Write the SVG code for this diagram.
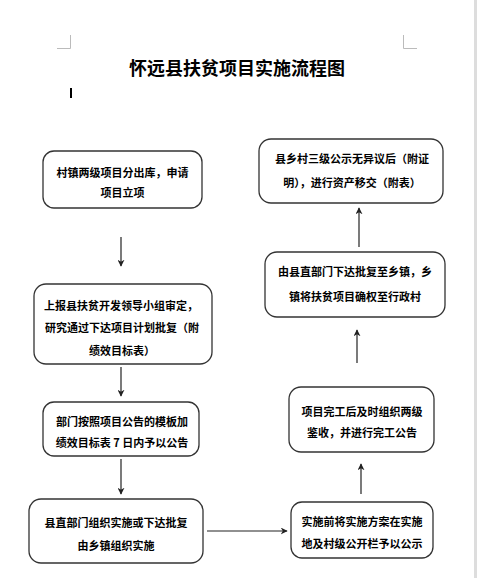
<svg xmlns="http://www.w3.org/2000/svg" width="477" height="578" viewBox="0 0 477 578">
<style>
.box{fill:#fff;stroke:#333;stroke-width:1.3}
.t{font-family:"Noto Sans CJK SC","Liberation Sans",sans-serif;font-size:11px;font-weight:bold;fill:#000;text-anchor:middle}
.title{font-family:"Noto Sans CJK SC","Liberation Serif",serif;font-size:18px;font-weight:bold;fill:#000;text-anchor:middle}
.c{stroke:#222;stroke-width:1.2;fill:none;marker-end:url(#ah)}
.mark{stroke:#bbb;stroke-width:1;fill:none}
</style>
<defs>
<marker id="ah" viewBox="0 0 10 10" refX="9" refY="5" markerWidth="7" markerHeight="7" markerUnits="userSpaceOnUse" orient="auto">
<path d="M0,0 L10,5 L0,10 L3,5 z" fill="#222"/>
</marker>
</defs>
<rect width="477" height="578" fill="#fff"/>
<rect x="474" y="0" width="3" height="578" fill="#ddd"/>
<path class="mark" d="M70.5,35 V48.5 H57"/>
<path class="mark" d="M403.5,35 V48.5 H417"/>
<text class="title" x="237" y="74.5">怀远县扶贫项目实施流程图</text>
<rect x="70" y="88" width="2" height="10" fill="#000"/>

<g id="connectors">
<line class="c" x1="121" y1="237" x2="121" y2="266"/>
<line class="c" x1="121" y1="367" x2="121" y2="396"/>
<line class="c" x1="121" y1="459" x2="121" y2="494"/>
<line class="c" x1="207" y1="531" x2="287" y2="531"/>
<line class="c" x1="361" y1="494" x2="361" y2="464"/>
<line class="c" x1="357" y1="363" x2="357" y2="330"/>
<line class="c" x1="359" y1="247" x2="359" y2="208"/>
</g>

<g id="n1">
<rect class="box" x="43" y="151" width="159" height="57" rx="11"/>
<text class="t" x="122.5" y="177">村镇两级项目分出库，申请</text>
<text class="t" x="122.5" y="197">项目立项</text>
</g>
<g id="n2">
<rect class="box" x="34" y="284" width="178" height="80" rx="12"/>
<text class="t" x="121" y="310">上报县扶贫开发领导小组审定，</text>
<text class="t" x="122" y="332">研究通过下达项目计划批复（附</text>
<text class="t" x="122" y="355">绩效目标表）</text>
</g>
<g id="n3">
<rect class="box" x="43" y="402" width="156" height="54" rx="11"/>
<text class="t" x="122" y="426">部门按照项目公告的模板加</text>
<text class="t" x="122" y="447">绩效目标表 7 日内予以公告</text>
</g>
<g id="n4">
<rect class="box" x="29" y="499" width="174" height="64" rx="12"/>
<text class="t" x="116" y="527">县直部门组织实施或下达批复</text>
<text class="t" x="116" y="550">由乡镇组织实施</text>
</g>
<g id="n5">
<rect class="box" x="291" y="502" width="142" height="56" rx="11"/>
<text class="t" x="362" y="526">实施前将实施方案在实施</text>
<text class="t" x="362" y="548">地及村级公开栏予以公示</text>
</g>
<g id="n6">
<rect class="box" x="289" y="387" width="145" height="65" rx="12"/>
<text class="t" x="362" y="416">项目完工后及时组织两级</text>
<text class="t" x="362" y="437">鉴收，并进行完工公告</text>
</g>
<g id="n7">
<rect class="box" x="265" y="252" width="180" height="65" rx="12"/>
<text class="t" x="355" y="276">由县直部门下达批复至乡镇，乡</text>
<text class="t" x="355" y="301">镇将扶贫项目确权至行政村</text>
</g>
<g id="n8">
<rect class="box" x="259" y="139" width="184" height="64" rx="12"/>
<text class="t" x="352" y="163">县乡村三级公示无异议后（附证</text>
<text class="t" x="352" y="187">明），进行资产移交（附表）</text>
</g>
</svg>
